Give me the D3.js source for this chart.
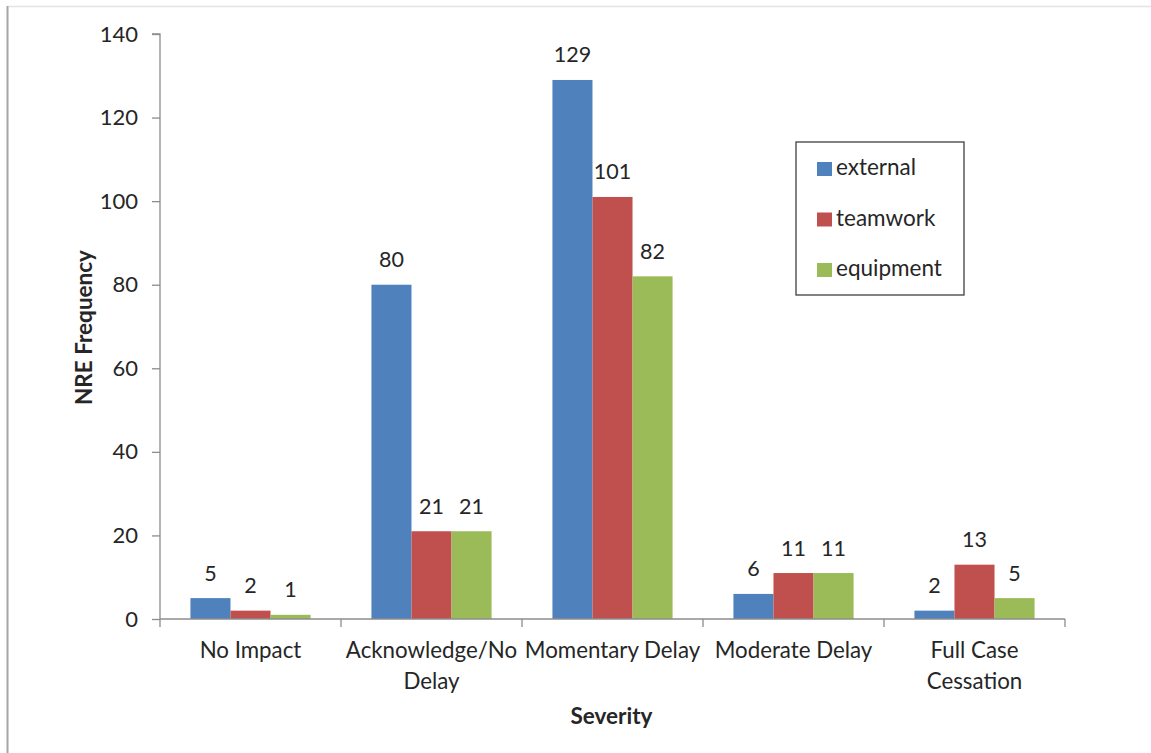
<!DOCTYPE html>
<html>
<head>
<meta charset="utf-8">
<script src="https://cdn.jsdelivr.net/npm/d3@7"></script>
<style>
  html, body { margin: 0; padding: 0; background: #fff; }
  svg text { font-family: Lato, "Open Sans", sans-serif; fill: #262626; }
</style>
</head>
<body>
<svg id="chart" width="1151" height="753"></svg>
<script>
// Severity categories (two-line labels where the text wraps)
const categories = ["No Impact", "Acknowledge/No Delay", "Momentary Delay", "Moderate Delay", "Full Case Cessation"];
const categoryLines = [["No Impact"], ["Acknowledge/No", "Delay"], ["Momentary Delay"], ["Moderate Delay"], ["Full Case", "Cessation"]];
const seriesNames = ["external", "teamwork", "equipment"];
const external = [5, 80, 129, 6, 2];
const teamwork = [2, 21, 101, 11, 13];
const equipment = [1, 21, 82, 11, 5];
const yTicks = [0, 20, 40, 60, 80, 100, 120, 140];
const colors = ["#4F81BD", "#C0504D", "#9BBB59"];

const seriesValues = [external, teamwork, equipment];

const svg = d3.select("#chart");

// outer frame lines
svg.append("line").attr("x1", 7).attr("x2", 1151).attr("y1", 6.5).attr("y2", 6.5)
  .attr("stroke", "#e4e4e4").attr("stroke-width", 1.5);
svg.append("line").attr("x1", 7.5).attr("x2", 7.5).attr("y1", 6).attr("y2", 753)
  .attr("stroke", "#a6a6a6").attr("stroke-width", 2);

const plot = { left: 160, right: 1065, top: 34, bottom: 619 };

const x = d3.scaleBand().domain(categories).range([plot.left, plot.right]).paddingInner(0).paddingOuter(0);
const inner = d3.scaleBand().domain(seriesNames).range([0, x.bandwidth()]).paddingInner(0).paddingOuter(0.76);
const y = d3.scaleLinear().domain([0, 140]).range([plot.bottom, plot.top]);

// y axis
const yAxis = d3.axisLeft(y).tickValues(yTicks).tickSize(8).tickPadding(14);
const gy = svg.append("g").attr("transform", `translate(${plot.left},0)`).call(yAxis);
gy.select(".domain").attr("stroke", "#8c8c8c").attr("stroke-width", 1.3).attr("d", `M-8,${plot.top}H0V${plot.bottom}`);
gy.selectAll(".tick line").attr("stroke", "#8c8c8c").attr("stroke-width", 1.3);
gy.selectAll(".tick text").attr("font-size", 22).attr("fill", "#262626")
  .style("font-family", "Lato, 'Open Sans', sans-serif");

// bars
const groups = svg.append("g").selectAll("g").data(seriesNames).join("g")
  .attr("fill", (d, i) => colors[i]);
groups.selectAll("rect").data((s, si) => categories.map((c, ci) => ({ c, s, v: seriesValues[si][ci] })))
  .join("rect")
  .attr("x", d => x(d.c) + inner(d.s))
  .attr("width", inner.bandwidth())
  .attr("y", d => y(d.v))
  .attr("height", d => y(0) - y(d.v));

// value labels
groups.selectAll("text").data((s, si) => categories.map((c, ci) => ({ c, s, v: seriesValues[si][ci] })))
  .join("text")
  .attr("x", d => x(d.c) + inner(d.s) + inner.bandwidth() / 2)
  .attr("y", d => y(d.v) - 17.5)
  .attr("text-anchor", "middle")
  .attr("font-size", 21.5)
  .attr("fill", "#262626")
  .text(d => d.v);

// x axis
const xAxis = d3.axisBottom(x).tickSize(0).tickFormat("");
const gx = svg.append("g").attr("transform", `translate(0,${plot.bottom})`).call(xAxis);
gx.select(".domain").attr("stroke", "#8c8c8c").attr("stroke-width", 1.3).attr("d", `M${plot.left},0H${plot.right}`);
gx.selectAll(".tick").remove();
const boundaries = categories.map(c => x(c)).concat([x(categories[categories.length - 1]) + x.bandwidth()]);
gx.selectAll("line.sep").data(boundaries).join("line").attr("class", "sep")
  .attr("x1", d => d).attr("x2", d => d).attr("y1", 0).attr("y2", 8)
  .attr("stroke", "#8c8c8c").attr("stroke-width", 1.3);

// category labels
const catLabels = svg.append("g").selectAll("text").data(categories).join("text")
  .attr("x", d => x(d) + x.bandwidth() / 2)
  .attr("y", 658)
  .attr("text-anchor", "middle")
  .attr("font-size", 22.3);
catLabels.each(function (d, i) {
  const t = d3.select(this);
  categoryLines[i].forEach((line, li) => {
    t.append("tspan").attr("x", x(d) + x.bandwidth() / 2).attr("dy", li === 0 ? 0 : 31).text(line);
  });
});

// axis titles
svg.append("text").attr("x", (plot.left + plot.right) / 2 - 1).attr("y", 724)
  .attr("text-anchor", "middle").attr("font-size", 22.5).attr("font-weight", "bold").text("Severity");
svg.append("text").attr("transform", `translate(92,${(plot.top + plot.bottom) / 2 + 1}) rotate(-90)`)
  .attr("text-anchor", "middle").attr("font-size", 22.5).attr("font-weight", "bold").text("NRE Frequency");

// legend
const legend = svg.append("g").attr("transform", "translate(796,142)");
legend.append("rect").attr("width", 168).attr("height", 153)
  .attr("fill", "#fff").attr("stroke", "#404040").attr("stroke-width", 1.3);
const items = legend.selectAll("g").data(seriesNames).join("g")
  .attr("transform", (d, i) => `translate(21,${20 + i * 50.5})`);
items.append("rect").attr("width", 15).attr("height", 14).attr("fill", (d, i) => colors[i]);
items.append("text").attr("x", 19).attr("y", 13).attr("font-size", 22.5).text(d => d);
</script>
</body>
</html>
